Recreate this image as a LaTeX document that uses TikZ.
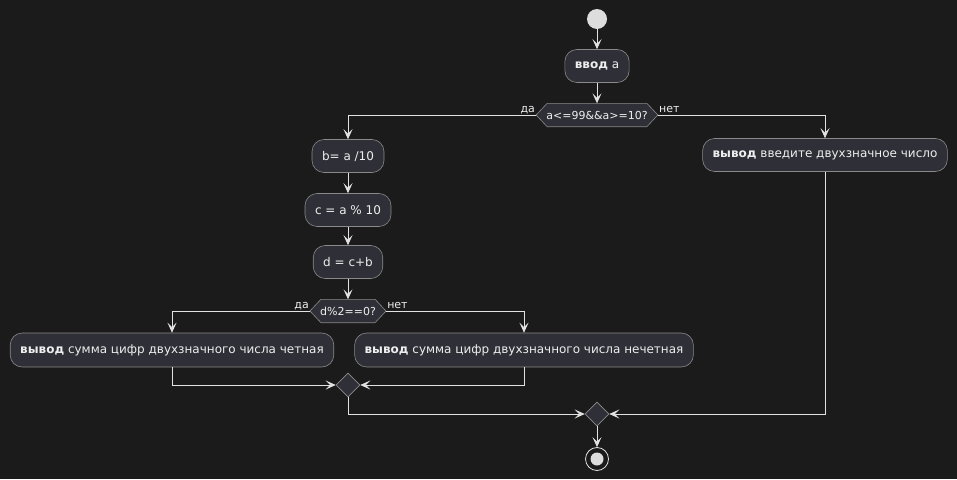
\documentclass[tikz,border=0pt]{standalone}
\usepackage{fontspec}
\setmainfont{DejaVu Sans}
\usetikzlibrary{arrows.meta,shapes.geometric,backgrounds}
\definecolor{bgcol}{HTML}{1B1B1B}
\definecolor{boxfill}{HTML}{2F2F37}
\definecolor{boxline}{HTML}{8A8A8A}
\definecolor{linecol}{HTML}{E2E2E2}
\definecolor{ink}{HTML}{EEEEEE}
\definecolor{dotcol}{HTML}{DDDDDD}

\begin{document}
\begin{tikzpicture}[x=1pt,y=-1pt,
  action/.style={draw=boxline, fill=boxfill, rounded corners=12pt, minimum height=33pt,
                 inner xsep=10pt, text=ink, font=\fontsize{12}{14}\selectfont, line width=0.6pt},
  decide/.style={minimum height=23pt, inner xsep=10pt, text=ink, font=\fontsize{11}{13}\selectfont},
  hexbox/.style={fill=boxfill, draw=boxline, line width=0.6pt},
  merge/.style={diamond, draw=boxline, fill=boxfill, minimum size=24pt, inner sep=0pt, line width=0.6pt},
  flow/.style={draw=linecol, line width=0.9pt, -{Stealth[length=10pt,width=9pt,inset=4.5pt]}},
  lbl/.style={text=ink, font=\fontsize{11}{13}\selectfont, inner sep=1pt}
]
\useasboundingbox (0,0) rectangle (957,479);

% start / stop
\node[circle, fill=dotcol, minimum size=20pt, inner sep=0pt] (start) at (597,19) {};
\node[circle, draw=linecol, line width=0.8pt, minimum size=23pt, inner sep=0pt] (stop) at (597,459) {};
\fill[dotcol] (stop) circle[radius=6.5pt];

% actions
\node[action] (in) at (597,66) {\textbf{ввод} а};
\node[decide] (h1) at (597,115) {a<=99\&\&a>=10?};
\node[action] (b) at (348,156) {b= a /10};
\node[action] (c) at (348,210) {c = a \% 10};
\node[action] (d) at (348,262) {d = c+b};
\node[decide] (h2) at (348,311) {d\%2==0?};
\node[action, minimum height=34pt] (even) at (172,350) {\textbf{вывод} сумма цифр двухзначного числа четная};
\node[action, minimum height=34pt] (odd) at (524,350) {\textbf{вывод} сумма цифр двухзначного числа нечетная};
\node[action] (err) at (825,155) {\textbf{вывод} введите двухзначное число};
\node[merge] (m1) at (348,385) {};
\node[merge] (m2) at (597,414) {};

% canvas and hexagonal decision frames behind the condition text
\begin{scope}[on background layer]
  \fill[bgcol] (0,0) rectangle (957,479);
  \foreach \h in {h1,h2}{
    \filldraw[hexbox] (\h.west) -- ([xshift=11pt]\h.north west) -- ([xshift=-11pt]\h.north east)
      -- (\h.east) -- ([xshift=-11pt]\h.south east) -- ([xshift=11pt]\h.south west) -- cycle;
  }
\end{scope}

% branch labels
\node[lbl, anchor=base east] at ([yshift=3pt]h1.west) {да};
\node[lbl, anchor=base west] at ([yshift=3pt]h1.east) {нет};
\node[lbl, anchor=base east] at ([yshift=3pt]h2.west) {да};
\node[lbl, anchor=base west] at ([yshift=3pt]h2.east) {нет};

% connectors
\draw[flow] (start) -- (in);
\draw[flow] (in) -- (h1);
\draw[flow] (h1.west) -| (b);
\draw[flow] (h1.east) -| (err);
\draw[flow] (b) -- (c);
\draw[flow] (c) -- (d);
\draw[flow] (d) -- (h2);
\draw[flow] (h2.west) -| (even);
\draw[flow] (h2.east) -| (odd);
\draw[flow] (even.south) |- (m1.west);
\draw[flow] (odd.south) |- (m1.east);
\draw[flow] (m1.south) |- (m2.west);
\draw[flow] (err.south) |- (m2.east);
\draw[flow] (m2) -- (stop);
\end{tikzpicture}
\end{document}
